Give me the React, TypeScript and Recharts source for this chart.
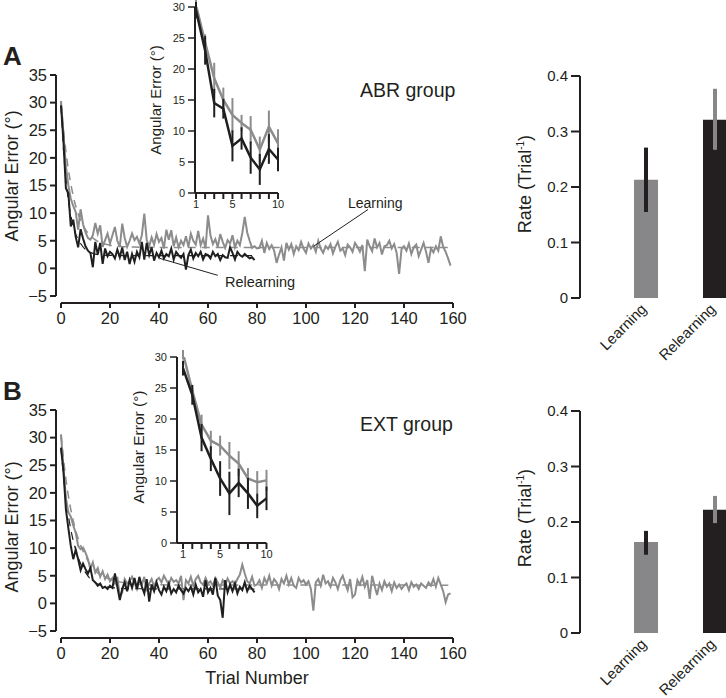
import React from "react";
import {
  LineChart,
  Line,
  XAxis,
  YAxis,
  ReferenceLine,
  ErrorBar,
  BarChart,
  Bar,
} from "recharts";

const FONT = '"Liberation Sans", Arial, Helvetica, sans-serif';
const INK = "#231f20";
const GREY = "#8c8c8c";
const DARK = "#1f1f1f";
const GREY_BAR = "#87878a";
const DARK_BAR = "#231f20";

// ---- main curves: angular error per trial (trial index from 0) ----
const abrLearn = [
  30.3, 24.3, 18.5, 15, 12.6, 11.3, 10.2, 7, 10.7, 8,
  6.5, 5.5, 5.2, 6.0, 8.2, 6.3, 7.8, 3.9, 5.1, 6.3,
  4.5, 6.0, 7.5, 5.0, 3.9, 8.1, 5.5, 3.9, 5.0, 6.3,
  5.1, 5.7, 4.5, 6.0, 9.9, 5.1, 4.0, 5.6, 4.3, 6.2,
  4.8, 5.5, 3.6, 7.0, 5.2, 6.9, 4.0, 5.6, 3.8, 5.0,
  4.2, 5.8, 3.9, 6.3, 5.0, 4.3, 6.8, 4.2, 5.4, 3.6,
  9.6, 6.0, 4.4, 5.3, 3.9, 6.2, 4.8, 3.7, 5.1, 4.5,
  6.0, 3.8, 5.0, 4.2, 6.4, 9.3, 6.5, 5.0, 3.7, 4.0,
  3.6, 3.7, 5.0, 2.8, 4.6, 3.5, 4.2, 3.2, 1.0, 2.5,
  3.8, 1.4, 4.6, 3.4, 4.4, 2.6, 4.0, 3.3, 4.8, 3.6,
  2.8, 4.5, 3.6, 4.2, 3.0, 5.0, 3.6, 2.8, 4.0, 3.5,
  4.4, 2.7, 3.9, 4.8, 3.2, 3.6, 2.4, 4.3, 3.8, 3.0,
  4.6, 3.9, 3.0, 4.2, -0.5, 5.2, 4.0, 3.1, 5.4, 3.8,
  4.6, 2.5, 4.0, 4.2, 5.0, 3.6, 4.4, 2.8, -1.0, 3.5,
  4.0, 3.2, 4.5, 2.6, 3.8, 4.3, 2.2, 3.4, 4.6, 3.0,
  1.0, 3.6, 2.9, 4.0, 3.2, 5.8, 3.9, 3.0, 1.8, 0.5,
];

const abrRelearn = [
  29.5, 23, 14.5, 13.6, 7.6, 8.8, 5.7, 3.8, 7.1, 5.4,
  4.0, 3.2, 2.8, 0.2, 4.8, 2.5, 4.6, 0.8, 3.6, 2.2,
  3.0, 2.6, 1.8, 3.4, 2.0, 3.8, 1.5, 3.0, 0.8, 2.6,
  1.2, 3.0, 2.0, 4.8, 1.6, 4.6, 2.4, 3.8, 1.4, 2.8,
  2.0, 3.2, 1.8, 2.6, 2.2, 3.6, 1.6, 3.0, 2.4, 1.9,
  2.6, -0.2, 2.4, 3.4, 1.8, 2.8, 2.2, 3.0, 1.6, 2.6,
  2.4, 1.8, 3.0, 2.2, 2.6, 1.5, 2.4, 2.0, 1.9, 3.8,
  2.8, 1.6, 3.0, 2.4, 2.1, 2.6, 2.2, 1.8, 2.0, 1.5,
];

const extLearn = [
  30.6, 24.6, 19.1, 16.5, 15.7, 14.1, 12.8, 10.4, 9.8, 10.1,
  9.2, 8.0, 6.2, 7.4, 5.6, 6.4, 4.8, 5.8, 4.4, 5.2,
  4.0, 4.6, 3.6, 4.8, 1.2, 2.0, 4.4, 3.6, 4.0, 4.8,
  3.8, 2.6, 4.2, 3.4, 4.8, 2.2, 3.6, 4.4, 3.0, 4.2,
  4.6, 3.8, 5.0, 4.2, 3.4, 4.6, 3.9, 4.2, 3.6, 5.0,
  0.6, 4.2, 3.6, 4.8, 3.2, 4.4, 5.0, 3.8, 3.4, 4.6,
  3.6, 4.0, 3.2, 4.6, 3.8, 2.8, 4.2, 3.4, 4.5, 3.6,
  4.0, 3.4, 4.4, 5.2, 7.0, 5.4, 4.0, 3.6, 4.8, 3.2,
  3.4, 4.2, 2.8, 4.6, 3.6, 5.0, 3.2, 4.4, 3.8, 2.6,
  4.4, 3.6, 5.0, 3.4, 4.6, 3.2, 2.8, 4.6, 3.8, 4.2,
  3.4, 4.0, 2.6, -1.3, 3.8, 4.4, 3.2, 5.2, 3.6, 4.0,
  3.0, 4.6, 3.8, 2.6, 4.2, 5.0, 3.6, 2.4, 4.4, 1.1,
  1.6, 4.2, 3.4, 4.8, 3.0, 4.2, 0.8, 5.0, 3.2, 1.5,
  3.6, 2.4, 4.0, 3.0, 3.6, 2.2, 3.8, 2.8, 3.4, 2.6,
  3.2, 3.6, 2.4, 3.8, 3.0, 3.4, 2.6, 3.6, 3.2, 2.8,
  3.8, 3.2, 4.4, 3.0, 4.6, 3.4, 2.2, 0.2, 1.6, 1.8,
];

const extRelearn = [
  28.2, 23.9, 17, 13.6, 10.4, 8, 9.7, 8, 6, 7.2,
  6.2, 5.4, 6.4, 4.2, 3.8, 3.2, 3.6, 2.8, 3.0, 2.6,
  3.2, 2.8, 5.4, 3.0, 0.6, 2.6, 3.8, 2.2, 4.2, 2.8,
  4.6, 2.6, 4.8, 3.0, 1.8, 4.4, 0.3, 3.4, 2.2, 3.8,
  2.4, 1.6, 3.0, 2.2, 3.6, 1.8, 2.6, 2.0, 3.2, 2.4,
  1.8, 2.8, 2.2, 3.0, 1.6, 3.4, 2.0, 2.6, 1.2, 4.2,
  2.0, 2.8, 1.6, 4.6, 1.4, 0.6, -2.6, 4.2, 2.0, 3.4,
  2.2, 3.6, 1.8, 3.0, 2.4, 3.8, 2.2, 3.2, 2.6, 2.0,
];

const abrLearnFit = [[0, 30], [1, 25.2], [2, 21.2], [3, 17.9], [4, 15.3], [5, 13.1], [6, 11.3], [8, 8.7], [10, 7], [12, 5.9], [15, 4.9], [20, 4.2], [25, 3.95], [30, 3.85], [40, 3.8], [160, 3.8]];
const abrRelearnFit = [[0, 29.5], [1, 21.6], [2, 16.2], [3, 12.3], [4, 9.6], [5, 7.6], [6, 6.2], [8, 4.5], [10, 3.4], [12, 2.9], [15, 2.5], [20, 2.35], [30, 2.3], [79, 2.3]];
const extLearnFit = [[0, 30.5], [2, 22.5], [4, 17], [6, 13.2], [8, 10.5], [10, 8.5], [12, 7], [15, 5.5], [20, 4.4], [25, 3.8], [30, 3.55], [40, 3.35], [160, 3.3]];
const extRelearnFit = [[0, 28], [2, 19], [4, 13.4], [6, 9.7], [8, 7.2], [10, 5.6], [12, 4.4], [15, 3.5], [20, 2.9], [30, 2.65], [79, 2.6]];

// ---- insets: first 10 trials, mean and s.e. ----
const abrInsetLearn = [30.3, 24.3, 18.5, 15, 12.6, 11.3, 10.2, 7, 10.7, 8];
const abrInsetLearnErr = [1.5, 1.3, 2.5, 2, 2.7, 1.3, 2.2, 2.1, 2.6, 2.3];
const abrInsetRelearn = [29.5, 23, 14.5, 13.6, 7.6, 8.8, 5.7, 3.8, 7.1, 5.4];
const abrInsetRelearnErr = [1.3, 2.3, 2.3, 1.6, 2.5, 1.8, 2.6, 2.5, 2.4, 1.9];

const extInsetLearn = [30.6, 24.6, 19.1, 16.5, 15.7, 14.1, 12.8, 10.4, 9.8, 10.1];
const extInsetLearnErr = [1.0, 0.8, 1.6, 1.6, 1.6, 2.2, 2.0, 1.7, 1.8, 1.7];
const extInsetRelearn = [28.2, 23.9, 17, 13.6, 10.4, 8, 9.7, 8, 6, 7.2];
const extInsetRelearnErr = [1.2, 1.6, 2.2, 2.0, 2.8, 3.5, 2.3, 2.5, 2.0, 1.9];

// ---- learning rates ----
const rateCats = ["Learning", "Relearning"];
const abrRate = [0.213, 0.321];
const abrRateLo = [0.155, 0.267];
const abrRateHi = [0.271, 0.377];
const extRate = [0.164, 0.222];
const extRateLo = [0.141, 0.198];
const extRateHi = [0.184, 0.247];

// ticks
const trialTicks = [0, 20, 40, 60, 80, 100, 120, 140, 160];
const errTicks = [-5, 0, 5, 10, 15, 20, 25, 30, 35];
const insetXTicks = [1, 2, 3, 4, 5, 6, 7, 8, 9, 10];
const insetYTicks = [0, 5, 10, 15, 20, 25, 30];
const rateTicks = [0, 0.1, 0.2, 0.3, 0.4];

const series = (vals: number[]) => vals.map((v, t) => ({ t, v }));
const pairs = (pts: number[][]) => pts.map(([t, v]) => ({ t, v }));
const fmtErr = (v: number) => (v < 0 ? `\u2212${-v}` : String(v));

const TrialTick = (p: any) => {
  const { x, y, payload } = p;
  return (
    <g>
      <line x1={x} x2={x} y1={y + 7} y2={y + 12} stroke={INK} strokeWidth={2} />
      <text x={x} y={y + 28} textAnchor="middle" fontSize={16.5} fill={INK} fontFamily={FONT}>
        {payload.value}
      </text>
    </g>
  );
};

const RateTick = (p: any) => {
  const { x, y, payload } = p;
  const ax = x + 2;
  const ay = y + 12;
  return (
    <text
      x={ax}
      y={ay}
      textAnchor="end"
      fontSize={15}
      fill={INK}
      fontFamily={FONT}
      transform={`rotate(-45 ${ax} ${ay})`}
    >
      {payload.value}
    </text>
  );
};

interface MainProps {
  top: number;
  learn: number[];
  relearn: number[];
  learnFit: number[][];
  relearnFit: number[][];
  leaders?: boolean;
}

function MainPanel({ top, learn, relearn, learnFit, relearnFit, leaders }: MainProps) {
  return (
    <div style={{ position: "absolute", left: 0, top }}>
      <LineChart width={470} height={340} margin={{ top: 75, right: 17, bottom: 14, left: 6 }}>
        <XAxis
          type="number"
          dataKey="t"
          domain={[0, 160]}
          ticks={trialTicks}
          padding={{ left: 5, right: 0 }}
          axisLine={false}
          tickLine={false}
          tickSize={0}
          tickMargin={0}
          height={30}
          tick={<TrialTick />}
          interval={0}
        />
        <YAxis
          type="number"
          domain={[-5, 35]}
          ticks={errTicks}
          tickFormatter={fmtErr}
          width={50}
          tickSize={6}
          tickMargin={3}
          axisLine={{ stroke: INK, strokeWidth: 2 }}
          tickLine={{ stroke: INK, strokeWidth: 2 }}
          tick={{ fontSize: 16.5, fill: INK, fontFamily: FONT }}
          interval={0}
        />
        <ReferenceLine
          segment={[{ x: 0, y: -6.26 }, { x: 160, y: -6.26 }]}
          stroke={INK}
          strokeWidth={2}
          ifOverflow="visible"
        />
        {/* fits first so the noisy trial curves sit over them */}
        <Line data={pairs(learnFit)} dataKey="v" type="monotone" stroke={GREY} strokeWidth={1.5} strokeDasharray="8 6" dot={false} isAnimationActive={false} />
        <Line data={pairs(relearnFit)} dataKey="v" type="monotone" stroke={DARK} strokeWidth={1.2} strokeDasharray="8 6" dot={false} isAnimationActive={false} />
        <Line data={series(learn)} dataKey="v" stroke={GREY} strokeWidth={2} dot={false} isAnimationActive={false} />
        <Line data={series(relearn)} dataKey="v" stroke={DARK} strokeWidth={2} dot={false} isAnimationActive={false} />
        {leaders && (
          <ReferenceLine segment={[{ x: 103, y: 3.97 }, { x: 125.3, y: 10.65 }]} stroke={INK} strokeWidth={1} ifOverflow="visible" />
        )}
        {leaders && (
          <ReferenceLine segment={[{ x: 40.4, y: 1.8 }, { x: 64, y: -1.26 }]} stroke={INK} strokeWidth={1} ifOverflow="visible" />
        )}
      </LineChart>
    </div>
  );
}

interface InsetProps {
  left: number;
  top: number;
  plotWidth: number;
  padLeft: number;
  learn: number[];
  learnErr: number[];
  relearn: number[];
  relearnErr: number[];
}

function InsetPanel({ left, top, plotWidth, padLeft, learn, learnErr, relearn, relearnErr }: InsetProps) {
  const gl = learn.map((v, i) => ({ t: i + 1, v, e: learnErr[i] }));
  const bl = relearn.map((v, i) => ({ t: i + 1, v, e: relearnErr[i] }));
  return (
    <div style={{ position: "absolute", left, top }}>
      <LineChart width={40 + plotWidth + 12} height={215} margin={{ top: 7, right: 12, bottom: 2, left: 0 }}>
        <XAxis
          type="number"
          dataKey="t"
          domain={[1, 10]}
          ticks={insetXTicks}
          interval={0}
          tickFormatter={(v: number) => (v === 1 || v === 5 || v === 10 ? String(v) : "")}
          padding={{ left: padLeft, right: 0 }}
          height={20}
          tickSize={6}
          tickMargin={1}
          axisLine={{ stroke: INK, strokeWidth: 2 }}
          tickLine={{ stroke: INK, strokeWidth: 2 }}
          tick={{ fontSize: 11, fill: INK, fontFamily: FONT }}
        />
        <YAxis
          type="number"
          domain={[0, 30]}
          allowDataOverflow
          ticks={insetYTicks}
          interval={0}
          width={40}
          tickSize={7}
          tickMargin={3}
          axisLine={{ stroke: INK, strokeWidth: 2 }}
          tickLine={{ stroke: INK, strokeWidth: 1.5 }}
          tick={{ fontSize: 11, fill: INK, fontFamily: FONT }}
        />
        <Line data={gl} dataKey="v" stroke={GREY} strokeWidth={2.5} dot={false} isAnimationActive={false}>
          <ErrorBar dataKey="e" width={0} stroke={GREY} strokeWidth={2} direction="y" />
        </Line>
        <Line data={bl} dataKey="v" stroke={DARK} strokeWidth={2.5} dot={false} isAnimationActive={false}>
          <ErrorBar dataKey="e" width={0} stroke={DARK} strokeWidth={2} direction="y" />
        </Line>
      </LineChart>
    </div>
  );
}

interface RateProps {
  top: number;
  rate: number[];
  lo: number[];
  hi: number[];
}

function RatePanel({ top, rate, lo, hi }: RateProps) {
  const rows = rateCats.map((cat, i) => ({
    cat,
    learn: i === 0 ? rate[i] : null,
    relearn: i === 1 ? rate[i] : null,
    learnErr: i === 0 ? [rate[i] - lo[i], hi[i] - rate[i]] : null,
    relearnErr: i === 1 ? [rate[i] - lo[i], hi[i] - rate[i]] : null,
  }));
  return (
    <div style={{ position: "absolute", left: 530, top }}>
      <BarChart width={219} height={390} data={rows} barSize={24} margin={{ top: 76, right: 0, bottom: 42, left: 0 }}>
        <XAxis
          xAxisId="a"
          dataKey="cat"
          padding={{ left: 31, right: 0 }}
          axisLine={false}
          tickLine={false}
          tickSize={0}
          tickMargin={0}
          height={50}
          interval={0}
          tick={<RateTick />}
        />
        <XAxis xAxisId="b" dataKey="cat" padding={{ left: 31, right: 0 }} hide />
        <YAxis
          type="number"
          domain={[0, 0.4]}
          ticks={rateTicks}
          interval={0}
          tickFormatter={(v: number) => (v === 0 ? "0" : v.toFixed(1))}
          width={50}
          tickSize={9}
          tickMargin={3}
          axisLine={{ stroke: INK, strokeWidth: 2 }}
          tickLine={{ stroke: INK, strokeWidth: 2 }}
          tick={{ fontSize: 15, fill: INK, fontFamily: FONT }}
        />
        <Bar xAxisId="a" dataKey="learn" fill={GREY_BAR} isAnimationActive={false}>
          <ErrorBar dataKey="learnErr" width={0} stroke={DARK_BAR} strokeWidth={4} direction="y" />
        </Bar>
        <Bar xAxisId="b" dataKey="relearn" fill={DARK_BAR} isAnimationActive={false}>
          <ErrorBar dataKey="relearnErr" width={0} stroke={GREY_BAR} strokeWidth={4} direction="y" />
        </Bar>
      </BarChart>
    </div>
  );
}

function VLabel({ x, y, size, children }: { x: number; y: number; size: number; children: React.ReactNode }) {
  return (
    <text transform={`translate(${x},${y}) rotate(-90)`} textAnchor="middle" fontSize={size}>
      {children}
    </text>
  );
}

function Labels() {
  return (
    <svg
      width={726}
      height={698}
      style={{ position: "absolute", left: 0, top: 0, pointerEvents: "none" }}
      fontFamily={FONT}
      fill={INK}
    >
      <text x={3} y={65} fontSize={26} fontWeight="bold">A</text>
      <text x={3} y={400} fontSize={26} fontWeight="bold">B</text>
      <text x={360} y={97} fontSize={19.5}>ABR group</text>
      <text x={360} y={431} fontSize={19.5}>EXT group</text>

      <VLabel x={18} y={176} size={18}>Angular Error (°)</VLabel>
      <VLabel x={18} y={527} size={18}>Angular Error (°)</VLabel>
      <VLabel x={161} y={100} size={15}>Angular Error (°)</VLabel>
      <VLabel x={144} y={447} size={15.5}>Angular Error (°)</VLabel>

      <text x={348} y={208} fontSize={14}>Learning</text>
      <text x={225} y={287} fontSize={14.5}>Relearning</text>
      <text x={257} y={684} fontSize={18} textAnchor="middle">Trial Number</text>

      <VLabel x={531} y={184} size={18}>
        Rate (Trial<tspan fontSize={10} dy={-7}>-1</tspan><tspan dy={7}>)</tspan>
      </VLabel>
      <VLabel x={531} y={518} size={18}>
        Rate (Trial<tspan fontSize={10} dy={-7}>-1</tspan><tspan dy={7}>)</tspan>
      </VLabel>
    </svg>
  );
}

export default function App() {
  return (
    <div
      style={{
        position: "absolute",
        left: 0,
        top: 0,
        width: 726,
        height: 698,
        overflow: "hidden",
        background: "#fff",
        fontFamily: FONT,
      }}
    >
      <MainPanel top={0} learn={abrLearn} relearn={abrRelearn} learnFit={abrLearnFit} relearnFit={abrRelearnFit} leaders />
      <MainPanel top={335} learn={extLearn} relearn={extRelearn} learnFit={extLearnFit} relearnFit={extRelearnFit} />
      <InsetPanel left={155} top={0} plotWidth={83} padLeft={1} learn={abrInsetLearn} learnErr={abrInsetLearnErr} relearn={abrInsetRelearn} relearnErr={abrInsetRelearnErr} />
      <InsetPanel left={137} top={350} plotWidth={89.5} padLeft={6} learn={extInsetLearn} learnErr={extInsetLearnErr} relearn={extInsetRelearn} relearnErr={extInsetRelearnErr} />
      <RatePanel top={0} rate={abrRate} lo={abrRateLo} hi={abrRateHi} />
      <RatePanel top={335} rate={extRate} lo={extRateLo} hi={extRateHi} />
      <Labels />
    </div>
  );
}
